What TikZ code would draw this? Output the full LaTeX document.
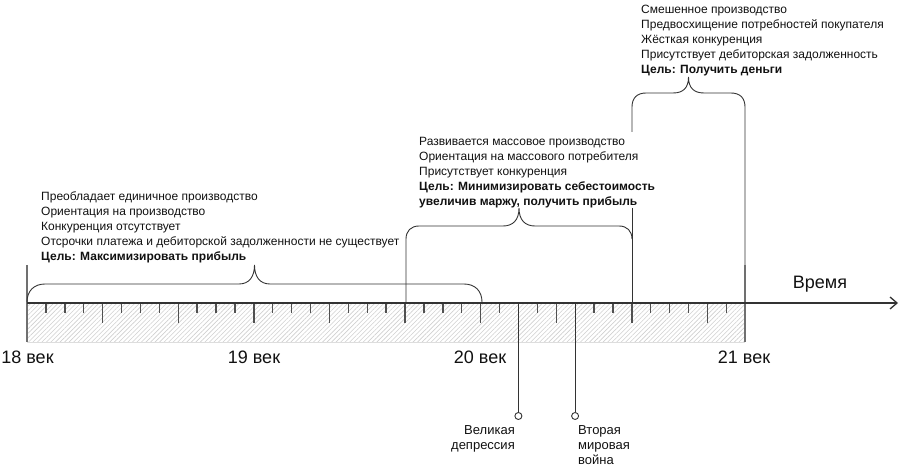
\documentclass[tikz,border=0pt]{standalone}
\usepackage{fontspec}
\setmainfont{Liberation Sans}
\usetikzlibrary{arrows.meta,patterns.meta}
\definecolor{linecol}{HTML}{333333}
\definecolor{tickcol}{HTML}{505050}
\definecolor{barcol}{HTML}{707070}
\definecolor{hatchcol}{HTML}{CFCFCF}
\definecolor{textcol}{HTML}{111111}
\begin{document}
\begin{tikzpicture}[x=1pt,y=-1pt,
  info/.style={anchor=base west, inner sep=0pt, text=textcol, font=\fontsize{12}{15}\selectfont},
  evlabel/.style={inner sep=0pt, text=textcol, font=\fontsize{13}{15}\selectfont},
  century/.style={anchor=base, inner sep=0pt, text=textcol, font=\fontsize{18}{20}\selectfont},
  bracepath/.style={draw=linecol, line width=0.9pt},
  axisline/.style={draw=linecol, line width=1.3pt, -{Straight Barb[length=7pt,width=12pt]}},
  barline/.style={draw=barcol, line width=2.2pt},
  tickline/.style={draw=tickcol, line width=1.4pt},
  evline/.style={draw=linecol, line width=0.9pt},
  evdot/.style={circle, draw=linecol, fill=white, line width=0.9pt, minimum size=7pt, inner sep=0pt}]
\useasboundingbox (0,0) rectangle (900,470);
% hatched band
\fill[pattern={Lines[angle=45,distance=3.2pt,line width=0.6pt]}, pattern color=hatchcol] (27,303) rectangle (745,342);
\draw[draw=hatchcol!70, line width=0.8pt] (27,342) -- (745,342);
% ticks
\foreach \k in {1,2,3,5,6,7,9,10,11,13,14,15,17,18,19,21,22,23,25,27,30,31,33,34,35,37}
  \draw[tickline] (27+18.9*\k,303) -- (27+18.9*\k,313);
\foreach \k in {4,8,12,16,20,24,28,32,36}
  \draw[tickline] (27+18.9*\k,303) -- (27+18.9*\k,323);
% century bars
\coordinate (b18t) at (27,265); \coordinate (b18b) at (27,342);
\coordinate (b21t) at (745,265); \coordinate (b21b) at (745,342);
\draw[barline] (b18t) -- (b18b);
\draw[barline] (b21t) -- (b21b);
% time axis
\coordinate (axstart) at (27,303);
\coordinate (axend) at (898,303);
\draw[axisline] (axstart) -- (axend);
% brace 1
\draw[bracepath] (27,302) .. controls (27,291) and (34,284) .. (45,284) -- (239,284)
  .. controls (249,284) and (254.5,277) .. (254.5,265)
  .. controls (254.5,277) and (260,284) .. (270,284) -- (464,284)
  .. controls (475,284) and (482,291) .. (482,302);
% brace 2
\draw[bracepath] (406,303) -- (406,239) .. controls (406,231) and (411,226) .. (419,226) -- (503,226)
  .. controls (513,226) and (519,220) .. (519,208)
  .. controls (519,220) and (525,226) .. (535,226) -- (619,226)
  .. controls (627,226) and (632,231) .. (632,239);
\draw[bracepath] (632,208) -- (632,303);
% brace 3
\draw[bracepath] (632,132) -- (632,107) .. controls (632,98) and (637,93) .. (646,93) -- (673,93)
  .. controls (683,93) and (688.5,88) .. (688.5,77)
  .. controls (688.5,88) and (694,93) .. (704,93) -- (731,93)
  .. controls (740,93) and (745,98) .. (745,107) -- (b21t);
% text blocks
\node[info] (blk1) at (41,200.5) {\begin{tabular}[t]{@{}l@{}}Преобладает единичное производство\\
Ориентация на производство\\
Конкуренция отсутствует\\
Отсрочки платежа и дебиторской задолженности не существует\\
\textbf{Цель: Максимизировать прибыль}\end{tabular}};
\node[info] (blk2) at (419,145.5) {\begin{tabular}[t]{@{}l@{}}Развивается массовое производство\\
Ориентация на массового потребителя\\
Присутствует конкуренция\\
\textbf{Цель: Минимизировать себестоимость}\\
\textbf{увеличив маржу, получить прибыль}\end{tabular}};
\node[info] (blk3) at (641,14) {\begin{tabular}[t]{@{}l@{}}Смешенное производство\\
Предвосхищение потребностей покупателя\\
Жёсткая конкуренция\\
Присутствует дебиторская задолженность\\
\textbf{Цель: Получить деньги}\end{tabular}};
% century labels
\node[century] (c18) at (27.5,364) {18 век};
\node[century] (c19) at (254,364) {19 век};
\node[century] (c20) at (480,364) {20 век};
\node[century] (c21) at (744,364) {21 век};
\node[century] (time) at (820,289) {Время};
% events
\coordinate (gdtop) at (518.4,303);
\coordinate (wwtop) at (575.1,303);
\node[evdot] (gd) at (518.4,416) {};
\node[evdot] (ww) at (575.1,416) {};
\draw[evline] (gdtop) -- (gd);
\draw[evline] (wwtop) -- (ww);
\node[evlabel, anchor=base east] (gdlab) at (515,435) {\begin{tabular}[t]{@{}r@{}}Великая\\депрессия\end{tabular}};
\node[evlabel, anchor=base west] (wwlab) at (578,435) {\begin{tabular}[t]{@{}l@{}}Вторая\\мировая\\война\end{tabular}};
\end{tikzpicture}
\end{document}
